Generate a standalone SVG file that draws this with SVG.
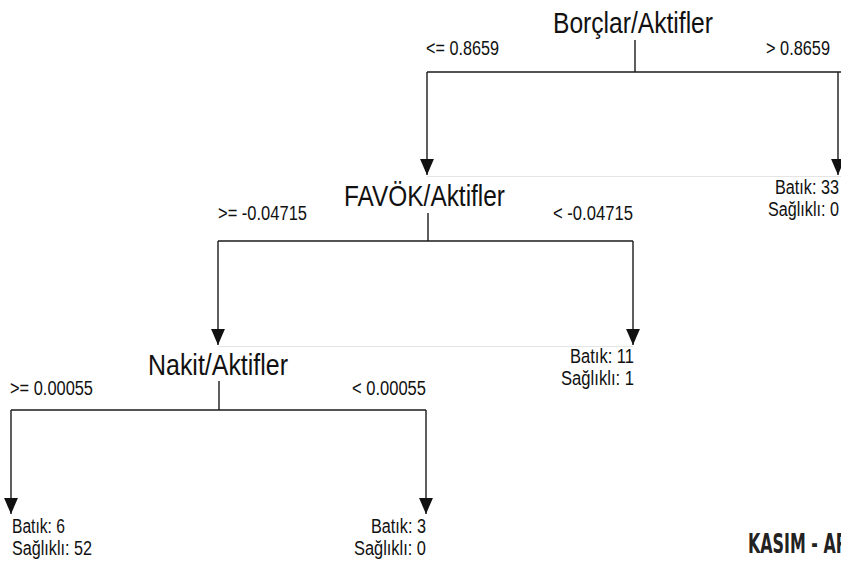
<svg xmlns="http://www.w3.org/2000/svg" width="841" height="561" viewBox="0 0 841 561">
<style>
.t{font-family:"Liberation Sans",Arial,sans-serif;font-size:29px;fill:#111}
.l{font-family:"Liberation Sans",Arial,sans-serif;font-size:19.5px;fill:#111}
.e{text-anchor:end}
.c{fill:none;stroke:#1a1a1a;stroke-width:1.4}
.f{fill:none;stroke:#e4e4e4;stroke-width:1}
.w{font-family:"DejaVu Sans Condensed","Roboto",sans-serif;font-weight:bold;font-size:26px;fill:#222}
</style>
<defs>
<marker id="ah" markerUnits="userSpaceOnUse" markerWidth="16" markerHeight="14" refX="15" refY="6.5" orient="auto" viewBox="0 0 15 13">
<path d="M0,0 L15,6.5 L0,13 Z" fill="#111"/>
</marker>
</defs>
<rect width="841" height="561" fill="#fff"/>
<g id="connectors">
<path class="f" d="M427,176.5 H841"/>
<path class="f" d="M218,346.5 H633"/>
<path class="c" d="M635,40 V72"/>
<path class="c" d="M427,72 H845"/>
<path class="c" d="M427,72 V175" marker-end="url(#ah)"/>
<path class="c" d="M838,72 V175" marker-end="url(#ah)"/>
<path class="c" d="M428,213 V241"/>
<path class="c" d="M218,241 H633"/>
<path class="c" d="M218,241 V345" marker-end="url(#ah)"/>
<path class="c" d="M633,241 V345" marker-end="url(#ah)"/>
<path class="c" d="M219,381 V410"/>
<path class="c" d="M11,410 H426"/>
<path class="c" d="M11,410 V514" marker-end="url(#ah)"/>
<path class="c" d="M426,410 V514" marker-end="url(#ah)"/>
</g>
<g id="node-borclar">
<text class="t" x="553" y="33" textLength="160" lengthAdjust="spacingAndGlyphs">Borçlar/Aktifler</text>
<text class="l" x="426" y="55" textLength="73" lengthAdjust="spacingAndGlyphs">&lt;= 0.8659</text>
<text class="l" x="766" y="55" textLength="64" lengthAdjust="spacingAndGlyphs">&gt; 0.8659</text>
</g>
<g id="node-favok">
<text class="t" x="344" y="206" textLength="161" lengthAdjust="spacingAndGlyphs">FAVÖK/Aktifler</text>
<text class="l" x="218" y="220" textLength="89" lengthAdjust="spacingAndGlyphs">&gt;= -0.04715</text>
<text class="l" x="553" y="220" textLength="80" lengthAdjust="spacingAndGlyphs">&lt; -0.04715</text>
</g>
<g id="leaf-33">
<text class="l e" x="839" y="194" textLength="64" lengthAdjust="spacingAndGlyphs">Batık: 33</text>
<text class="l e" x="839" y="216" textLength="71" lengthAdjust="spacingAndGlyphs">Sağlıklı: 0</text>
</g>
<g id="node-nakit">
<text class="t" x="148" y="375" textLength="140" lengthAdjust="spacingAndGlyphs">Nakit/Aktifler</text>
<text class="l" x="10" y="395" textLength="83" lengthAdjust="spacingAndGlyphs">&gt;= 0.00055</text>
<text class="l" x="352" y="395" textLength="74" lengthAdjust="spacingAndGlyphs">&lt; 0.00055</text>
</g>
<g id="leaf-11">
<text class="l e" x="634" y="363" textLength="64" lengthAdjust="spacingAndGlyphs">Batık: 11</text>
<text class="l e" x="634" y="385" textLength="73" lengthAdjust="spacingAndGlyphs">Sağlıklı: 1</text>
</g>
<g id="leaf-6">
<text class="l" x="12" y="533" textLength="53" lengthAdjust="spacingAndGlyphs">Batık: 6</text>
<text class="l" x="12" y="555" textLength="80" lengthAdjust="spacingAndGlyphs">Sağlıklı: 52</text>
</g>
<g id="leaf-3">
<text class="l e" x="426" y="533" textLength="55" lengthAdjust="spacingAndGlyphs">Batık: 3</text>
<text class="l e" x="426" y="555" textLength="72" lengthAdjust="spacingAndGlyphs">Sağlıklı: 0</text>
</g>
<text class="w" x="748" y="553" textLength="100" lengthAdjust="spacingAndGlyphs">KASIM - AR</text>
</svg>
